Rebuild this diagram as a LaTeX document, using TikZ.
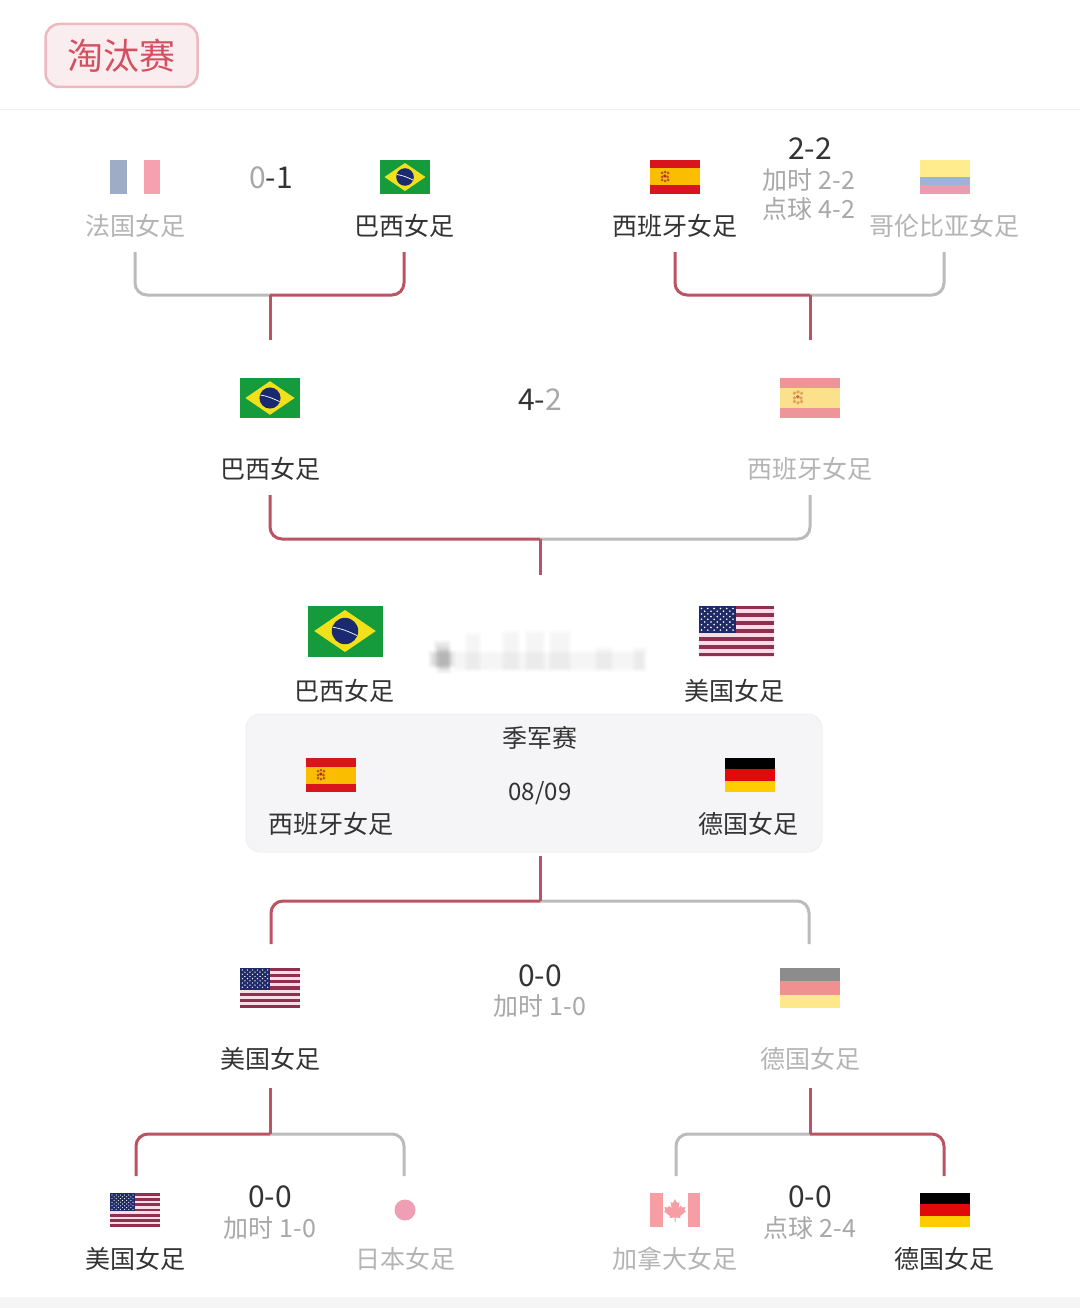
\documentclass[tikz,border=0pt]{standalone}
\usepackage{fontspec}
\setmainfont{Noto Sans CJK SC}
\definecolor{winred}{HTML}{BC5362}
\definecolor{losegray}{HTML}{BBBBBB}
\definecolor{darktext}{HTML}{333333}
\definecolor{fadetext}{HTML}{B4B4B4}
\definecolor{subtext}{HTML}{A8A8A8}
\definecolor{tagred}{HTML}{D2505F}
\definecolor{usared}{HTML}{8F3050}
\definecolor{usapink}{HTML}{FADCE6}
\definecolor{usablue}{HTML}{1F2A66}
\definecolor{brgreen}{HTML}{159A3C}
\definecolor{bryellow}{HTML}{F2E01A}
\definecolor{brblue}{HTML}{1A2A70}
\definecolor{spred}{HTML}{D8141D}
\definecolor{spyellow}{HTML}{FABD00}
\definecolor{embrown}{HTML}{B0562A}
\definecolor{gerred}{HTML}{E00A0A}
\definecolor{geryellow}{HTML}{FFCC00}
\definecolor{frblue}{HTML}{2A4A80}
\definecolor{frred}{HTML}{EE2F4E}
\definecolor{coblue}{HTML}{2A58A8}
\definecolor{cored}{HTML}{CE2A50}
\definecolor{jpred}{HTML}{DC2A58}
\definecolor{cared}{HTML}{EE2A38}
\newcommand{\pxfont}[1]{\fontsize{#1}{#1}\selectfont}
\tikzset{
	team/.style = {text=darktext, minimum height=52, inner sep=0, font=\pxfont{25}},
	fadeteam/.style = {team, text=fadetext},
	score/.style = {text=darktext, inner sep=0, font=\pxfont{30}},
	subscore/.style = {text=subtext, inner sep=0, font=\pxfont{25}},
	winline/.style = {draw=winred, line width=3, rounded corners=12},
	loseline/.style = {draw=losegray, line width=3, rounded corners=12},
	stemline/.style = {draw=winred, line width=3},
	faded/.style = {opacity=.45},
	flagfra/.pic = {
		\fill[frblue] (-25,-17) rectangle (-8.5,17);
		\fill[frred] (8.5,-17) rectangle (25,17);
	},
	flagbra/.pic = {
		\fill[brgreen] (-25,-17) rectangle (25,17);
		\fill[bryellow] (-20.5,0) -- (0,-14) -- (20.5,0) -- (0,14) -- cycle;
		\fill[brblue] (0,0) circle (8.8);
		\draw[white, line width=.7] (-8,-2.5) to [out=-10,in=155] (8,3);
	},
	flagesp/.pic = {
		\fill[spred] (-25,-17) rectangle (25,-8.5);
		\fill[spyellow] (-25,-8.5) rectangle (25,8.5);
		\fill[spred] (-25,8.5) rectangle (25,17);
		\foreach \a/\b in {-13/-4, -10/-5, -7/-4, -13/0, -10.5/-1, -7.5/0, -13/3, -10/4, -7/3}
			\fill[embrown] (\a,\b) circle (1.5);
		\fill[spred] (-10,-1) circle (1.6);
	},
	flagcol/.pic = {
		\fill[yellow!75!orange] (-25,-17) rectangle (25,0);
		\fill[coblue] (-25,0) rectangle (25,8.5);
		\fill[cored] (-25,8.5) rectangle (25,17);
	},
	flagusa/.pic = {
		\fill[usapink] (-25,-17) rectangle (25,17);
		\foreach \i in {0,2,...,12}
			\fill[usared] (-25,-17+\i*2.615) rectangle (25,-17+\i*2.615+2.615);
		\fill[usablue] (-25,-17) rectangle (0,1.3);
		\foreach \i in {0,...,5}
			\foreach \j in {0,...,4}
				\fill[white] (-23+\i*4.2,-15+\j*3.6) circle (.6);
		\foreach \i in {0,...,4}
			\foreach \j in {0,...,3}
				\fill[white] (-20.9+\i*4.2,-13.2+\j*3.6) circle (.6);
	},
	flagger/.pic = {
		\fill[black] (-25,-17) rectangle (25,-5.7);
		\fill[gerred] (-25,-5.7) rectangle (25,5.7);
		\fill[geryellow] (-25,5.7) rectangle (25,17);
	},
	flagjpn/.pic = {
		\fill[jpred] (0,0) circle (10.5);
	},
	flagcan/.pic = {
		\fill[cared] (-25,-17) rectangle (-12.5,17);
		\fill[cared] (12.5,-17) rectangle (25,17);
		\fill[cared] (0,-11) -- (2,-7) -- (4.5,-8) -- (3.5,-2) -- (6,-4.5) -- (7,-2.5) -- (10.5,-3) -- (9.5,.5) -- (11,1.5) -- (5,6) -- (5.5,8) -- (.5,7.5) -- (.5,12) -- (-.5,12) -- (-.5,7.5) -- (-5.5,8) -- (-5,6) -- (-11,1.5) -- (-9.5,.5) -- (-10.5,-3) -- (-7,-2.5) -- (-6,-4.5) -- (-3.5,-2) -- (-4.5,-8) -- (-2,-7) -- cycle;
	},
}
\begin{document}
\begin{tikzpicture}[x=1pt, y=-1pt]
	\useasboundingbox (0,0) rectangle (1080,1308);
	\fill[white] (0,0) rectangle (1080,1308);
	\fill[black!4] (0,1297) rectangle (1080,1308);
	\draw[black!6, line width=1] (0,110) -- (1080,110);
	\node[draw=tagred!40, fill=tagred!10, line width=2.5, rounded corners=14, minimum width=152, minimum height=63, text=tagred, font=\pxfont{36}] (tag) at (121.5,55.5) {淘汰赛};

	\node[fadeteam] (fra) at (135,226) {法国女足};
	\node[team] (bra) at (404,226) {巴西女足};
	\node[team] (esp) at (675,226) {西班牙女足};
	\node[fadeteam] (col) at (944,226) {哥伦比亚女足};
	\pic[faded] at (135,177) {flagfra};
	\pic at (405,177) {flagbra};
	\pic at (675,177) {flagesp};
	\pic[faded] at (945,177) {flagcol};
	\node[score] (score1) at (271,178) {\textcolor{subtext}{0}-1};
	\node[score] (score2) at (810,149) {2-2};
	\node[subscore] (extra2) at (809,180) {加时 2-2};
	\node[subscore] (pens2) at (809,209) {点球 4-2};

	\node[team] (bra2) at (270,469) {巴西女足};
	\node[fadeteam] (esp2) at (810,469) {西班牙女足};
	\pic[scale=1.2] at (270,398) {flagbra};
	\pic[scale=1.2, faded] at (810,398) {flagesp};
	\node[score] (score3) at (540,400) {4-\textcolor{subtext}{2}};

	\node[team] (bra3) at (344,691) {巴西女足};
	\node[team] (usa3) at (734,691) {美国女足};
	\pic[scale=1.5] at (345,631) {flagbra};
	\pic[scale=1.5] at (736,631) {flagusa};
	\foreach \x/\w/\t/\b/\o in {437/10/644/666/.018, 432/20/654/664/.025, 440/8/650/670/.02, 456/186/654/668/.008, 468/10/636/668/.008, 505/12/634/668/.008, 528/14/634/668/.008, 552/16/634/668/.008, 598/12/650/668/.008, 636/8/650/668/.008}
		\foreach \k in {0,...,4}
			\fill[black, opacity=\o, rounded corners=2] (\x-\k,\t-\k) rectangle (\x+\w+\k,\b+\k);

	\node[draw=black!6, fill=blue!20!black!4, line width=1, rounded corners=14, minimum width=576, minimum height=138, inner sep=0] (third) at (534,783) {};
	\node[text=darktext, inner sep=0, font=\pxfont{25}] (thirdtitle) at (540,738) {季军赛};
	\node[text=darktext, inner sep=0, font=\pxfont{24}] (thirddate) at (540,793) {08/09};
	\node[team] (esp4) at (331,824) {西班牙女足};
	\node[team] (ger4) at (748,824) {德国女足};
	\pic at (331,775) {flagesp};
	\pic at (750,775) {flagger};

	\node[team, minimum height=58] (usa5) at (270,1059) {美国女足};
	\node[fadeteam, minimum height=58] (ger5) at (810,1059) {德国女足};
	\pic[scale=1.2] at (270,988) {flagusa};
	\pic[scale=1.2, faded] at (810,988) {flagger};
	\node[score] (score5) at (540,976) {0-0};
	\node[subscore] (extra5) at (540,1006) {加时 1-0};

	\node[team] (usa6) at (135,1259) {美国女足};
	\node[fadeteam] (jpn6) at (405,1259) {日本女足};
	\node[fadeteam] (can6) at (675,1259) {加拿大女足};
	\node[team] (ger6) at (944,1259) {德国女足};
	\pic at (135,1210) {flagusa};
	\pic[faded] at (405,1210) {flagjpn};
	\pic[faded] at (675,1210) {flagcan};
	\pic at (945,1210) {flagger};
	\node[score] (score6) at (270,1197) {0-0};
	\node[subscore] (extra6) at (270,1228) {加时 1-0};
	\node[score] (score7) at (810,1197) {0-0};
	\node[subscore] (pens7) at (810,1228) {点球 2-4};

	\coordinate (join1) at (270,295);
	\coordinate (stem1) at (270,340);
	\coordinate (join2) at (810,295);
	\coordinate (stem2) at (810,340);
	\coordinate (join3) at (540,539);
	\coordinate (stem3) at (540,575);
	\coordinate (stem4) at (540,856);
	\coordinate (join4) at (540,901);
	\coordinate (drop4l) at (271,944);
	\coordinate (drop4r) at (809,944);
	\coordinate (join5) at (270,1134);
	\coordinate (drop5l) at (136,1176);
	\coordinate (drop5r) at (404,1176);
	\coordinate (join6) at (810,1134);
	\coordinate (drop6l) at (676,1176);
	\coordinate (drop6r) at (944,1176);

	\draw[loseline] (fra.south) |- (join1);
	\draw[winline] (bra.south) |- (join1);
	\draw[stemline] (join1) -- (stem1);
	\draw[loseline] (col.south) |- (join2);
	\draw[winline] (esp.south) |- (join2);
	\draw[stemline] (join2) -- (stem2);
	\draw[loseline] (esp2.south) |- (join3);
	\draw[winline] (bra2.south) |- (join3);
	\draw[stemline] (join3) -- (stem3);
	\draw[loseline] (drop4r) |- (join4);
	\draw[winline] (drop4l) |- (join4);
	\draw[stemline] (join4) -- (stem4);
	\draw[loseline] (drop5r) |- (join5);
	\draw[winline] (drop5l) |- (join5);
	\draw[stemline] (join5) -- (usa5.south);
	\draw[loseline] (drop6l) |- (join6);
	\draw[winline] (drop6r) |- (join6);
	\draw[stemline] (join6) -- (ger5.south);
\end{tikzpicture}
\end{document}
